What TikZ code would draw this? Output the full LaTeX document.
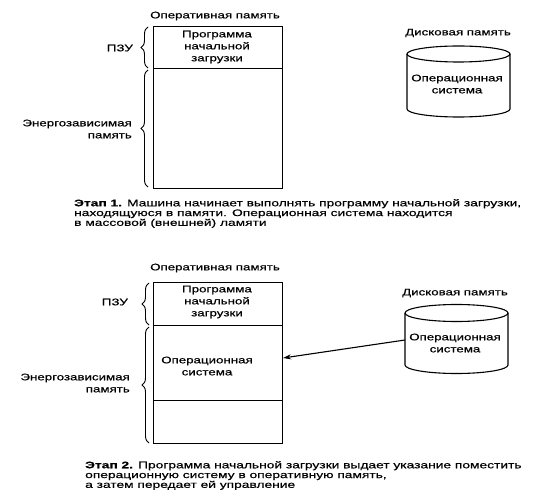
\documentclass[tikz,border=0pt]{standalone}
\usepackage{fontspec}
\setmainfont{Liberation Sans}
\newfontfamily\lab[FakeStretch=1.4,FakeBold=0.6]{Liberation Sans}
\newfontfamily\capf[FakeStretch=1.45,FakeBold=0.6]{Liberation Sans}
\usetikzlibrary{decorations.pathreplacing,arrows.meta}
\begin{document}
\begin{tikzpicture}[x=1pt,y=-1pt,
  lbl/.style={font=\lab\fontsize{9.5}{12}\selectfont,inner sep=0pt,align=center},
  captxt/.style={font=\capf\fontsize{9.5}{9.8}\selectfont,inner sep=0pt,align=left,anchor=north west},
  region/.style={draw,line width=1.1pt,minimum width=129pt,inner sep=0pt},
  brc/.style={decorate,decoration={brace,amplitude=7pt},line width=0.9pt},
  disk/.style={line width=1.1pt},
  arr/.style={line width=1.1pt,-{Stealth[length=8pt,width=5pt]}}]
\useasboundingbox (0,0) rectangle (540,502);
% ---------- Panel 1 ----------
\node[lbl] (t1) at (215,16) {Оперативная память};
\node[region,minimum height=42pt,anchor=north west] (rom1) at (153,26) {};
\node[region,minimum height=120pt,anchor=north west] (ram1) at (153,68) {};
\node[lbl] (romtxt1) at (217,47) {Программа\\начальной\\загрузки};
\node[lbl,anchor=east] (pzu1) at (133,48) {ПЗУ};
\node[lbl,anchor=east,align=right] (en1) at (132,129) {Энергозависимая\\память};
\coordinate (b1a) at (148,68); \coordinate (b1b) at (148,27);
\coordinate (b1c) at (148,187); \coordinate (b1d) at (148,70);
\draw[brc] (b1a) -- (b1b);
\draw[brc] (b1c) -- (b1d);
\node[lbl] (d1) at (458,33) {Дисковая память};
\draw[disk] (407,54) -- (407,109) arc[start angle=180,end angle=360,x radius=51.5pt,y radius=8pt] -- (510,54);
\draw[disk] (458.5,54) ellipse [x radius=51.5pt,y radius=8pt];
\node[lbl] (os1) at (457,84) {Операционная\\система};
\node[captxt] (c1) at (74,199) {\textbf{Этап 1.} Машина начинает выполнять программу начальной загрузки,\\находящуюся в памяти. Операционная система находится\\в массовой (внешней) ламяти};
% ---------- Panel 2 ----------
\node[lbl] (t2) at (215,268) {Оперативная память};
\node[region,minimum height=43pt,anchor=north west] (rom2) at (153,282) {};
\node[region,minimum height=75pt,anchor=north west] (os2) at (153,325) {};
\node[region,minimum height=43pt,anchor=north west] (free2) at (153,400) {};
\node[lbl] (romtxt2) at (217,302) {Программа\\начальной\\загрузки};
\node[lbl] (ostxt2) at (207,366) {Операционная\\система};
\node[lbl,anchor=east] (pzu2) at (128,302) {ПЗУ};
\node[lbl,anchor=east,align=right] (en2) at (130,383) {Энергозависимая\\память};
\coordinate (b2a) at (149,325); \coordinate (b2b) at (149,283);
\coordinate (b2c) at (149,443); \coordinate (b2d) at (149,327);
\draw[brc] (b2a) -- (b2b);
\draw[brc] (b2c) -- (b2d);
\node[lbl] (d2) at (455,293) {Дисковая память};
\draw[disk] (405,313) -- (405,365) arc[start angle=180,end angle=360,x radius=51.5pt,y radius=8.5pt] -- (508,313);
\draw[disk] (456.5,313) ellipse [x radius=51.5pt,y radius=8.5pt];
\node[lbl] (os2d) at (455,343) {Операционная\\система};
\coordinate (src) at (405,340);
\coordinate (dst) at (283,358);
\draw[arr] (src) -- (dst);
\node[captxt] (c2) at (85,461) {\textbf{Этап 2.} Программа начальной загрузки выдает указание поместить\\операционную систему в оперативную память,\\а затем передает ей управление};
\end{tikzpicture}
\end{document}
